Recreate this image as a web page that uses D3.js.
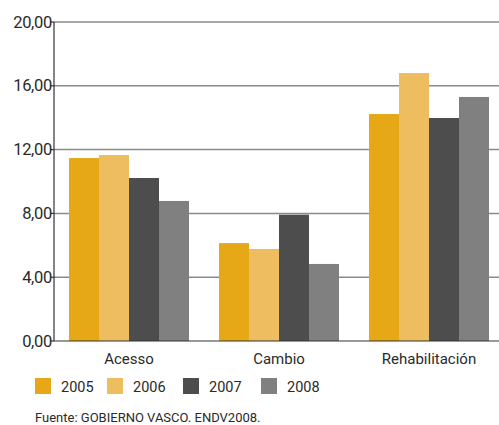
<!DOCTYPE html>
<html><head><meta charset="utf-8">
<script src="https://cdn.jsdelivr.net/npm/d3@7"></script>
<style>body{margin:0;background:#fff;} svg{display:block;}</style>
</head><body>
<svg id="c" width="499" height="425"></svg>
<script>
const categories = ["Acesso", "Cambio", "Rehabilitación"];
const years = ["2005", "2006", "2007", "2008"];
const v2005 = [11.47, 6.14, 14.23];
const v2006 = [11.66, 5.77, 16.8];
const v2007 = [10.22, 7.92, 13.98];
const v2008 = [8.78, 4.83, 15.3];
const yTicks = [0, 4, 8, 12, 16, 20];
const tickLabels = ["0,00", "4,00", "8,00", "12,00", "16,00", "20,00"];
const colors = ["#E6A817", "#EDBD60", "#4D4D4D", "#808080"];
const source = "Fuente: GOBIERNO VASCO. ENDV2008.";
const series = [v2005, v2006, v2007, v2008];

(function () {
const font = "Roboto,sans-serif";
const svg = d3.select("#c");
const mLeft = 54, mTop = 22, mBottom = 341, mRight = 504;
const y = d3.scaleLinear().domain([0, 20]).range([mBottom, mTop]);
const x0 = d3.scaleBand().domain(categories).range([mLeft, mRight]).paddingInner(0.2).paddingOuter(0.1);
const x1 = d3.scaleBand().domain(years).range([0, x0.bandwidth()]);

// grid
svg.append("g").selectAll("line").data(yTicks.filter(t => t > 0)).join("line")
  .attr("x1", mLeft).attr("x2", 499).attr("y1", d => y(d)).attr("y2", d => y(d))
  .attr("stroke", "#8a8a8a").attr("stroke-width", 1.5);

// bars
const g = svg.append("g");
categories.forEach((c, i) => {
  g.selectAll(null).data(years).enter().append("rect")
    .attr("x", (yr) => x0(c) + x1(yr))
    .attr("width", x1.bandwidth())
    .attr("y", (yr, j) => y(series[j][i]))
    .attr("height", (yr, j) => y(0) - y(series[j][i]))
    .attr("fill", (yr, j) => colors[j]);
});

// axes lines
svg.append("line").attr("x1", mLeft).attr("x2", mLeft).attr("y1", mTop).attr("y2", mBottom)
  .attr("stroke", "#333").attr("stroke-width", 1.2);
svg.append("line").attr("x1", mLeft).attr("x2", 499).attr("y1", mBottom).attr("y2", mBottom)
  .attr("stroke", "#333").attr("stroke-width", 1.2);
svg.append("g").selectAll("line").data(yTicks).join("line")
  .attr("x1", mLeft - 4).attr("x2", mLeft).attr("y1", d => y(d)).attr("y2", d => y(d))
  .attr("stroke", "#333").attr("stroke-width", 1.2);

// tick labels
svg.append("g").selectAll("text").data(yTicks).join("text")
  .attr("x", mLeft - 2).attr("y", d => y(d) + 5.5)
  .attr("text-anchor", "end").attr("font-family", font).attr("font-size", 16.5)
  .attr("letter-spacing", -0.3)
  .attr("fill", "#2a2a2a").text((d, i) => tickLabels[i]);

// category labels
svg.append("g").selectAll("text").data(categories).join("text")
  .attr("x", d => x0(d) + x0.bandwidth() / 2).attr("y", 364)
  .attr("text-anchor", "middle").attr("font-family", font).attr("font-size", 15)
  .attr("fill", "#2a2a2a").text(d => d);

// legend
const legX = [35, 107, 183, 261];
const lg = svg.append("g");
years.forEach((yr, j) => {
  lg.append("rect").attr("x", legX[j]).attr("y", 378).attr("width", 16).attr("height", 16).attr("fill", colors[j]);
  lg.append("text").attr("x", legX[j] + 26).attr("y", 391.5).attr("font-family", font).attr("font-size", 14.5)
    .attr("fill", "#2a2a2a").text(yr);
});

svg.append("text").attr("x", 35).attr("y", 422).attr("font-family", font).attr("font-size", 13)
  .attr("fill", "#2a2a2a").text(source);
})();
</script>
</body></html>
